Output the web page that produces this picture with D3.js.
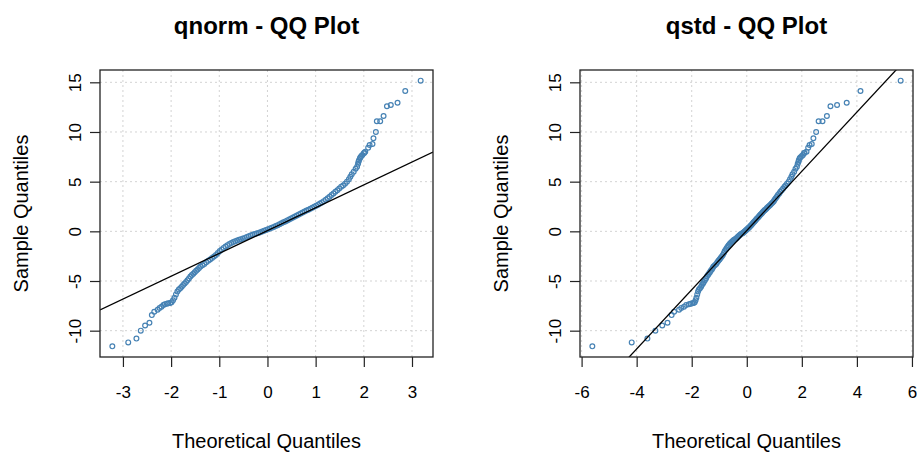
<!DOCTYPE html>
<html>
<head>
<meta charset="utf-8">
<script src="https://cdn.jsdelivr.net/npm/d3@7"></script>
<style>
  body { margin: 0; background: #fff; }
  svg { display: block; font-family: "Liberation Sans", Arial, Helvetica, sans-serif; }
  .grid line { stroke: #d3d3d3; stroke-width: 1; stroke-dasharray: 2,3; }
  .axis line { stroke: #222; stroke-width: 1.2; }
  .axis path { display: none; }
  .axis text { fill: #000; font-size: 17px; }
</style>
</head>
<body>
<div id="chart"></div>
<script>
// theoretical normal quantiles (left panel)
const normQ = [
  -3.22, -2.89, -2.72, -2.63, -2.54, -2.45, -2.40, -2.35, -2.28, -2.24,
  -2.20, -2.16, -2.13, -2.09, -2.06, -2.02, -1.99, -1.96, -1.93, -1.90,
  -1.87, -1.84, -1.81, -1.78, -1.75, -1.72, -1.69, -1.66, -1.63, -1.60,
  -1.57, -1.54, -1.51, -1.48, -1.45, -1.42, -1.39, -1.35, -1.31, -1.27,
  -1.23, -1.19, -1.15, -1.11, -1.07, -1.03, -0.99, -0.95, -0.91, -0.87,
  -0.83, -0.79, -0.75, -0.71, -0.67, -0.63, -0.59, -0.55, -0.51, -0.47,
  -0.43, -0.39, -0.35, -0.31, -0.27, -0.23, -0.19, -0.15, -0.11, -0.07,
  -0.03, 0.01, 0.05, 0.09, 0.13, 0.17, 0.21, 0.25, 0.29, 0.33,
  0.37, 0.41, 0.45, 0.49, 0.53, 0.57, 0.61, 0.65, 0.69, 0.73,
  0.77, 0.81, 0.85, 0.89, 0.93, 0.97, 1.01, 1.05, 1.09, 1.13,
  1.17, 1.21, 1.25, 1.29, 1.33, 1.37, 1.41, 1.45, 1.49, 1.53,
  1.57, 1.61, 1.65, 1.69, 1.72, 1.75, 1.79, 1.83, 1.86, 1.88,
  1.89, 1.90, 1.92, 1.93, 1.95, 1.97, 2.00, 2.01, 2.03, 2.09,
  2.12, 2.18, 2.20, 2.25, 2.27, 2.34, 2.41, 2.48, 2.56, 2.70,
  2.86, 3.18
];

// theoretical standardized Student-t quantiles (right panel)
const stdQ = [
  -5.61, -4.18, -3.61, -3.32, -3.07, -2.88, -2.73, -2.64, -2.46, -2.38,
  -2.28, -2.20, -2.10, -2.04, -1.98, -1.93, -1.89, -1.86, -1.83, -1.80,
  -1.77, -1.74, -1.70, -1.66, -1.63, -1.59, -1.56, -1.52, -1.48, -1.45,
  -1.41, -1.38, -1.34, -1.31, -1.27, -1.24, -1.21, -1.16, -1.11, -1.07,
  -1.03, -0.99, -0.95, -0.91, -0.87, -0.83, -0.80, -0.76, -0.73, -0.69,
  -0.66, -0.62, -0.59, -0.55, -0.52, -0.49, -0.46, -0.42, -0.39, -0.36,
  -0.33, -0.30, -0.27, -0.24, -0.21, -0.17, -0.14, -0.11, -0.08, -0.05,
  -0.02, 0.01, 0.04, 0.07, 0.10, 0.13, 0.16, 0.19, 0.22, 0.25,
  0.28, 0.31, 0.34, 0.37, 0.41, 0.44, 0.47, 0.50, 0.54, 0.57,
  0.60, 0.64, 0.67, 0.71, 0.74, 0.78, 0.82, 0.86, 0.90, 0.94,
  0.98, 1.01, 1.05, 1.09, 1.13, 1.18, 1.22, 1.27, 1.32, 1.37,
  1.41, 1.46, 1.52, 1.57, 1.62, 1.66, 1.72, 1.77, 1.82, 1.85,
  1.88, 1.89, 1.92, 1.95, 2.00, 2.04, 2.08, 2.10, 2.17, 2.23,
  2.28, 2.36, 2.42, 2.52, 2.61, 2.75, 2.91, 3.04, 3.28, 3.63,
  4.13, 5.59
];

// sorted sample values (same for both panels)
const sampleQ = [
  -11.58, -11.18, -10.80, -10.00, -9.48, -9.20, -8.43, -8.09, -7.90, -7.72,
  -7.59, -7.42, -7.33, -7.28, -7.25, -7.22, -7.15, -6.95, -6.68, -6.35,
  -6.05, -5.86, -5.74, -5.58, -5.40, -5.25, -5.10, -4.93, -4.74, -4.55,
  -4.40, -4.26, -4.12, -3.98, -3.85, -3.70, -3.55, -3.42, -3.28, -3.12,
  -2.97, -2.83, -2.68, -2.53, -2.38, -2.18, -1.98, -1.82, -1.67, -1.53,
  -1.39, -1.27, -1.17, -1.08, -1.00, -0.93, -0.85, -0.79, -0.73, -0.66,
  -0.58, -0.50, -0.41, -0.34, -0.28, -0.23, -0.17, -0.10, -0.02, 0.07,
  0.14, 0.20, 0.28, 0.36, 0.44, 0.53, 0.62, 0.72, 0.82, 0.91,
  1.00, 1.10, 1.19, 1.29, 1.39, 1.49, 1.59, 1.69, 1.79, 1.89,
  1.99, 2.09, 2.18, 2.28, 2.37, 2.47, 2.57, 2.68, 2.79, 2.91,
  3.04, 3.18, 3.33, 3.48, 3.65, 3.82, 3.98, 4.13, 4.30, 4.50,
  4.62, 4.80, 5.00, 5.25, 5.50, 5.75, 6.00, 6.30, 6.51, 6.80,
  7.01, 7.15, 7.35, 7.45, 7.58, 7.68, 7.85, 7.92, 8.02, 8.42,
  8.69, 8.79, 9.37, 10.00, 11.08, 11.08, 11.61, 12.59, 12.72, 12.95,
  14.13, 15.17
];

const xTicksNorm = [-3, -2, -1, 0, 1, 2, 3];
const xTicksStd = [-6, -4, -2, 0, 2, 4, 6];
const yTicks = [-10, -5, 0, 5, 10, 15];

// reference lines: [intercept, slope]
const normLine = [0.08, 2.30];
const stdLine = [0.08, 2.98];

const titles = ["qnorm - QQ Plot", "qstd - QQ Plot"];
const xLabel = "Theoretical Quantiles";
const yLabel = "Sample Quantiles";

const width = 917, height = 455;
const plotTop = 70, plotBottom = 357;

const svg = d3.select("#chart").append("svg")
    .attr("width", width)
    .attr("height", height);

svg.append("rect").attr("width", width).attr("height", height).attr("fill", "#fff");

// R style: extend the data range by 4% on each side
function padded(vals) {
    const [a, b] = d3.extent(vals);
    const d = (b - a) * 0.04;
    return [a - d, b + d];
}

// plain hyphen for negatives, like R
const fmt = d => String(d);

function drawPanel(opts) {
    const x = d3.scaleLinear().domain(padded(opts.xs)).range([opts.left, opts.right]);
    const y = d3.scaleLinear().domain(padded(sampleQ)).range([plotBottom, plotTop]);
    const cx = (opts.left + opts.right) / 2;

    const g = svg.append("g");

    // dotted grid at the tick positions
    const grid = g.append("g").attr("class", "grid");
    grid.selectAll(".gx").data(opts.xTicks).join("line")
        .attr("class", "gx")
        .attr("x1", d => x(d)).attr("x2", d => x(d))
        .attr("y1", plotTop).attr("y2", plotBottom);
    grid.selectAll(".gy").data(yTicks).join("line")
        .attr("class", "gy")
        .attr("x1", opts.left).attr("x2", opts.right)
        .attr("y1", d => y(d)).attr("y2", d => y(d));

    // points
    g.append("g").selectAll("circle")
        .data(opts.xs.map((v, i) => [v, sampleQ[i]]))
        .join("circle")
        .attr("cx", d => x(d[0]))
        .attr("cy", d => y(d[1]))
        .attr("r", 2.4)
        .attr("fill", "none")
        .attr("stroke", "#4682b4")
        .attr("stroke-width", 1.2);

    // qq line, clipped to the box
    const clipId = "clip" + opts.left;
    svg.append("clipPath").attr("id", clipId)
        .append("rect")
        .attr("x", opts.left).attr("y", plotTop)
        .attr("width", opts.right - opts.left).attr("height", plotBottom - plotTop);

    const [a, b] = opts.line;
    const xd = x.domain();
    g.append("line")
        .attr("clip-path", `url(#${clipId})`)
        .attr("x1", x(xd[0])).attr("y1", y(a + b * xd[0]))
        .attr("x2", x(xd[1])).attr("y2", y(a + b * xd[1]))
        .attr("stroke", "#000")
        .attr("stroke-width", 1.3);

    // axes
    g.append("g").attr("class", "axis")
        .attr("transform", `translate(0,${plotBottom})`)
        .call(d3.axisBottom(x).tickValues(opts.xTicks).tickSize(10).tickFormat(fmt))
        .call(s => s.selectAll("text").attr("y", 41).attr("dy", null));

    g.append("g").attr("class", "axis")
        .attr("transform", `translate(${opts.left},0)`)
        .call(d3.axisLeft(y).tickValues(yTicks).tickSize(10).tickFormat(fmt))
        .call(s => s.selectAll("text")
            .attr("x", null).attr("dy", null)
            .attr("text-anchor", "middle")
            .attr("transform", "translate(-19,0) rotate(-90)"));

    // box
    g.append("rect")
        .attr("x", opts.left).attr("y", plotTop)
        .attr("width", opts.right - opts.left).attr("height", plotBottom - plotTop)
        .attr("fill", "none")
        .attr("stroke", "#222")
        .attr("stroke-width", 1.3);

    // labels
    g.append("text")
        .attr("x", cx).attr("y", 34)
        .attr("text-anchor", "middle")
        .attr("font-size", 24).attr("font-weight", "bold")
        .text(opts.title);

    g.append("text")
        .attr("x", cx).attr("y", 448)
        .attr("text-anchor", "middle")
        .attr("font-size", 20)
        .text(xLabel);

    g.append("text")
        .attr("transform", `translate(${opts.left - 72},${(plotTop + plotBottom) / 2}) rotate(-90)`)
        .attr("text-anchor", "middle")
        .attr("font-size", 20)
        .text(yLabel);
}

drawPanel({ xs: normQ, xTicks: xTicksNorm, line: normLine, left: 100, right: 433, title: titles[0] });
drawPanel({ xs: stdQ, xTicks: xTicksStd, line: stdLine, left: 580, right: 913, title: titles[1] });
</script>
</body>
</html>
